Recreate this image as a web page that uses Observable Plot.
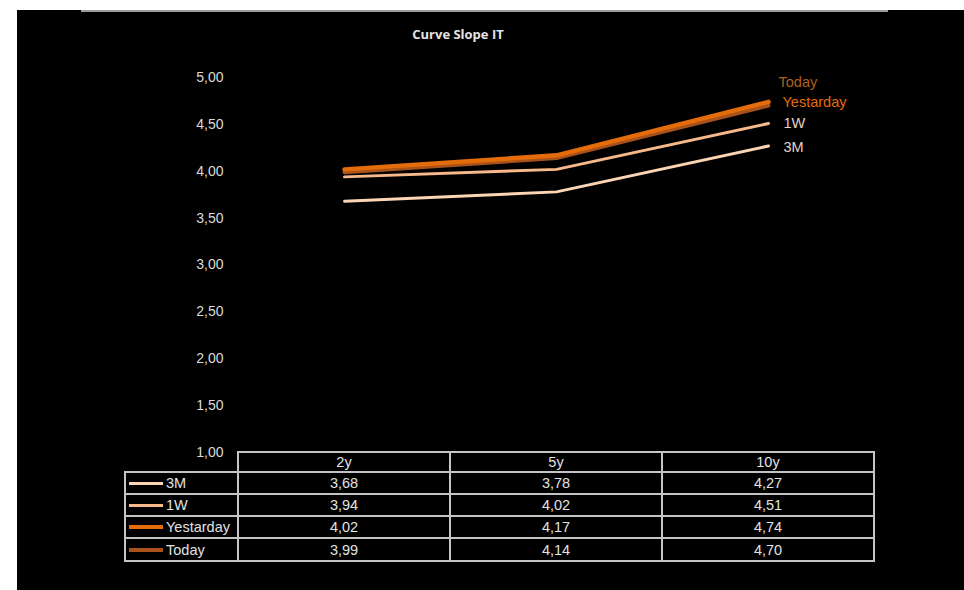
<!DOCTYPE html>
<html>
<head>
<meta charset="utf-8">
<script src="https://cdn.jsdelivr.net/npm/d3@7"></script>
<script src="https://cdn.jsdelivr.net/npm/@observablehq/plot@0.6"></script>
<style>
html, body { margin: 0; padding: 0; background: #fff; width: 964px; height: 590px; overflow: hidden; }
body { position: relative; }
#bg { position: absolute; left: 17px; top: 10px; right: 0; bottom: 0; background: #000; }
#rule { position: absolute; left: 81px; top: 10px; width: 807px; height: 2px; background: #9c9c9c; }
#title { position: absolute; left: 356px; width: 204px; top: 25px; text-align: center;
  font-family: "Open Sans", sans-serif; font-weight: 700; font-size: 13px; color: #e4e4e4; }
#chart { position: absolute; left: 0; top: 0; }
#tbl { position: absolute; left: 124px; top: 451px; border-collapse: collapse; table-layout: fixed;
  font-family: "Liberation Sans", Arial, sans-serif; font-size: 14.5px; color: #e2e2e2; }
#tbl td { border: 2px solid #c4c4c4; padding: 0; text-align: center; line-height: 18px; }
#tbl td.lab { text-align: left; padding-left: 3px; white-space: nowrap; }
#tbl td.blank { border: none; }
.sw { display: inline-block; width: 34px; vertical-align: middle; margin-right: 3px; position: relative; top: -1px; }
</style>
</head>
<body>
<div id="bg"></div>
<div id="rule"></div>
<div id="title">Curve Slope IT</div>
<div id="chart"></div>
<table id="tbl"></table>
<script>
// ---- data ----
const tenors = ["2y", "5y", "10y"];
const seriesNames = ["3M", "1W", "Yestarday", "Today"];
const values3M = [3.68, 3.78, 4.27];
const values1W = [3.94, 4.02, 4.51];
const valuesYesterday = [4.02, 4.17, 4.74];
const valuesToday = [3.99, 4.14, 4.70];
const yTicks = [1, 1.5, 2, 2.5, 3, 3.5, 4, 4.5, 5];

const seriesValues = [values3M, values1W, valuesYesterday, valuesToday];
const seriesColors = ["#FCD5B4", "#F8B98A", "#E46C0A", "#A9521A"];
const labelColors = ["#E2D3C7", "#E2D3C7", "#E46C0A", "#B0601E"];
const seriesWidths = [3, 3, 4.5, 4];
const labelOffsets = [[15, 1], [15, 0], [14, 0], [10, -23]];
const drawOrder = [0, 1, 3, 2];

const fmt = d => d.toFixed(2).replace(".", ",");

const rows = seriesNames.flatMap((s, i) =>
  tenors.map((t, j) => ({ series: s, tenor: t, value: seriesValues[i][j] })));

const marks = [
  Plot.axisY({ ticks: yTicks, tickFormat: fmt, tickSize: 0, tickPadding: 14,
    fill: "#dadada", fontSize: 14, label: null })
];
for (const i of drawOrder) {
  const s = seriesNames[i];
  marks.push(Plot.line(rows.filter(d => d.series === s), {
    x: "tenor", y: "value", stroke: seriesColors[i], strokeWidth: seriesWidths[i]
  }));
}
seriesNames.forEach((s, i) => {
  marks.push(Plot.text(rows.filter(d => d.series === s && d.tenor === tenors[tenors.length - 1]), {
    x: "tenor", y: "value", text: "series", textAnchor: "start",
    dx: labelOffsets[i][0], dy: labelOffsets[i][1], fill: labelColors[i], fontSize: 14.5
  }));
});

const chart = Plot.plot({
  width: 964, height: 590,
  marginLeft: 237, marginRight: 90, marginTop: 77, marginBottom: 138,
  style: { background: "transparent", color: "#dadada", fontFamily: "Liberation Sans, Arial, sans-serif", fontSize: "14px" },
  x: { type: "point", domain: tenors, padding: 0.5, axis: null },
  y: { domain: [1, 5], axis: null },
  marks
});
document.getElementById("chart").appendChild(chart);

// ---- data table below the chart ----
const tbl = d3.select("#tbl");
const colW = [113, 212, 212, 212];
const cg = tbl.append("colgroup");
colW.forEach(w => cg.append("col").style("width", w + "px"));
const head = tbl.append("tr").style("height", "20px");
head.append("td").attr("class", "blank");
tenors.forEach(t => head.append("td").text(t));
const rowH = [22, 22, 22, 23];
seriesNames.forEach((s, i) => {
  const tr = tbl.append("tr").style("height", rowH[i] + "px");
  const lab = tr.append("td").attr("class", "lab");
  lab.append("span").attr("class", "sw")
    .style("height", (i < 2 ? 3 : 4) + "px").style("background", seriesColors[i]);
  lab.append("span").text(s);
  seriesValues[i].forEach(v => tr.append("td").text(fmt(v)));
});
</script>
</body>
</html>
